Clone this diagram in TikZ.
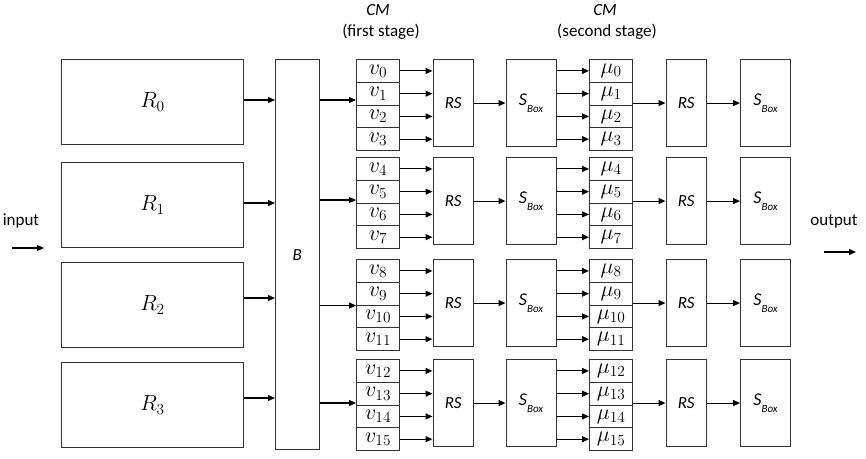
\RequirePackage{fix-cm}
\documentclass[tikz,border=0pt]{standalone}
\usepackage{fontspec}
\newfontfamily\calibri{Carlito}
\usepackage{tikz}
\usetikzlibrary{arrows.meta,positioning}

\begin{document}
\begin{tikzpicture}[x=1pt,y=-1pt,>={Stealth[length=7pt,width=6pt,inset=0pt]},
  box/.style={draw=black!80,line width=1.1pt,inner sep=0pt,anchor=north west},
  cell/.style={box,minimum width=43pt,minimum height=22.75pt,
               font=\fontsize{22}{24}\selectfont},
  sans/.style={font=\calibri\fontsize{17}{20}\selectfont},
  link/.style={->,line width=1.1pt}]
  \useasboundingbox (0,0) rectangle (866,458);

  % headers of the two CM stages
  \node[sans] (cm1) at (378,10) {\itshape CM};
  \node[sans] (st1) at (381,32) {(first stage)};
  \node[sans] (cm2) at (605,10) {\itshape CM};
  \node[sans] (st2) at (607,32) {(second stage)};

  % input / output
  \node[sans] (inp) at (21,221) {input};
  \coordinate (ina) at (12,248);
  \coordinate (inb) at (44,248);
  \draw[link] (ina) -- (inb);
  \node[sans] (outp) at (834,221) {output};
  \coordinate (outa) at (824,252);
  \coordinate (outb) at (856,252);
  \draw[link] (outa) -- (outb);

  \node[box,sans,minimum width=43.5pt,minimum height=390pt] (B) at (275,59) {\itshape B};

  % one row per register R_i
  \foreach \row/\rtop/\gtop/\ry/\by in {0/59/59/100/100,1/162/157/203/200,
                                        2/262/259/298/305.5,3/362/359/398/403}{
    \pgfmathtruncatemacro\first{4*\row}
    \node[box,minimum width=182pt,minimum height=85pt,
          font=\fontsize{22}{24}\selectfont] (R\row) at (61,\rtop) {$R_{\row}$};
    \node[box,sans,minimum width=40.5pt,minimum height=87pt] (rs\row) at (432.5,\gtop) {\itshape RS};
    \node[box,sans,minimum width=50pt,minimum height=87pt] (sb\row) at (505.5,\gtop)
      {\fontsize{18}{20}\selectfont\itshape S\raisebox{-0.4em}{\fontsize{11}{12}\selectfont Box}};
    \node[box,sans,minimum width=40.5pt,minimum height=87pt] (rsb\row) at (665.5,\gtop) {\itshape RS};
    \node[box,sans,minimum width=50pt,minimum height=87pt] (sbb\row) at (740,\gtop)
      {\fontsize{18}{20}\selectfont\itshape S\raisebox{-0.4em}{\fontsize{11}{12}\selectfont Box}};

    \foreach \k in {0,...,3}{
      \pgfmathtruncatemacro\n{4*\row+\k}
      \node[cell] (v\n) at (356,{\gtop+22.75*\k}) {\raisebox{-2pt}{$v_{\n}$}};
      \node[cell] (mu\n) at (589,{\gtop+22.75*\k}) {\raisebox{-2pt}{$\mu_{\n}$}};
      \draw[link] (v\n.east) -- (rs\row.west |- v\n.east);
      \draw[link] (sb\row.east |- mu\n.west) -- (mu\n.west);
    }

    \draw[link] (R\row.east |- 0,\ry) -- (B.west |- 0,\ry);
    \draw[link] (B.east |- 0,\by) -- (v\first.west |- 0,\by);
    \draw[link] (rs\row) -- (sb\row);
    \draw[link] (mu\first.east |- rsb\row.west) -- (rsb\row.west);
    \draw[link] (rsb\row) -- (sbb\row);
  }
\end{tikzpicture}
\end{document}
